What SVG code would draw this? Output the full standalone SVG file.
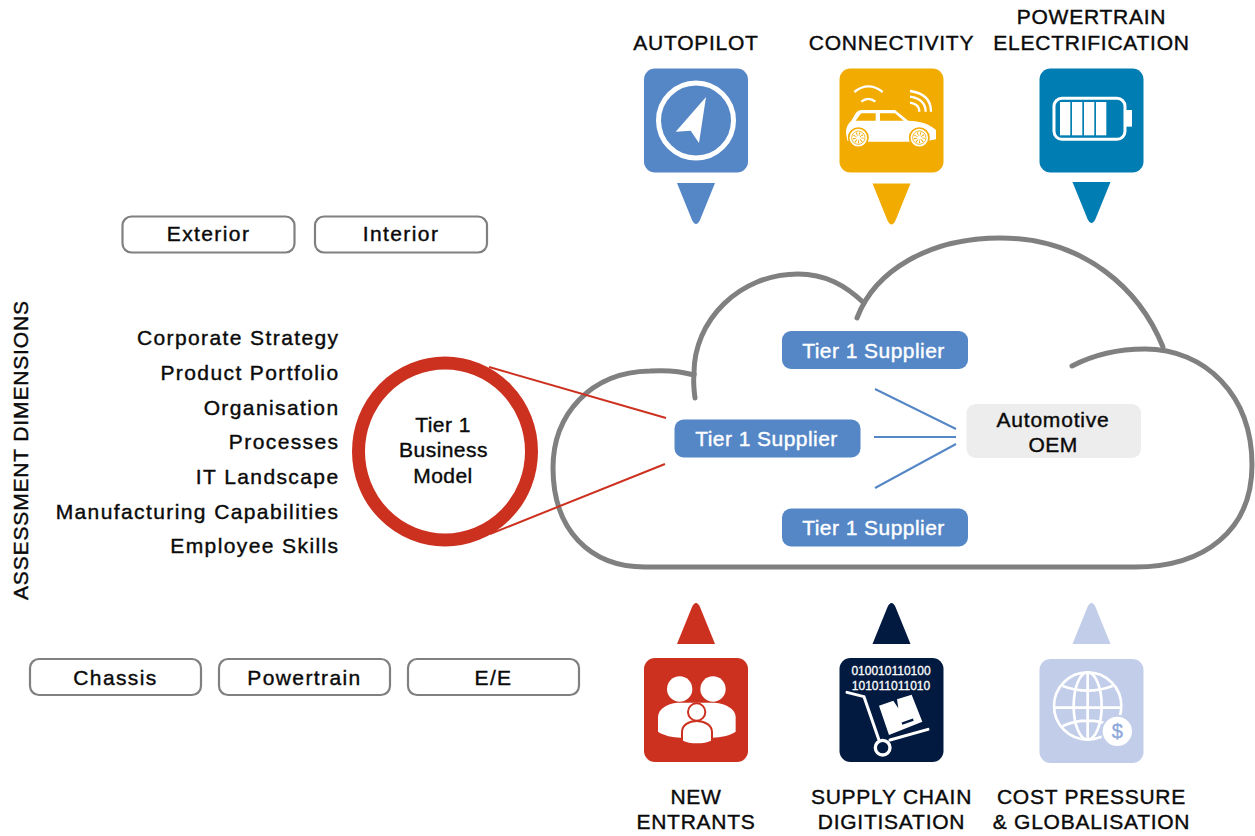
<svg xmlns="http://www.w3.org/2000/svg" width="1255" height="836" viewBox="0 0 1255 836">
<style>
text{font-family:"Liberation Sans",Arial,sans-serif;font-size:21px;fill:#0a0a0a;stroke:#0a0a0a;stroke-width:.4px;letter-spacing:.45px}
.m{text-anchor:middle}.e{text-anchor:end}
.l{letter-spacing:1.4px}
.u{letter-spacing:.75px}
.w{fill:#fff;stroke:#fff}
.bin{font-size:12px;letter-spacing:0;stroke-width:.3px}
.pill{fill:#fff;stroke:#808080;stroke-width:2.2}
.sup{fill:#5587c7}
.cloud{fill:none;stroke:#808080;stroke-width:5;stroke-linecap:round}
.red{stroke:#cc3120;stroke-width:2;fill:none}
.blue{stroke:#5587c7;stroke-width:2;fill:none}
.wl{fill:none;stroke:#fff;stroke-linecap:butt}
</style>
<defs>
<path id="down" d="M-19 0H19L4 37Q0 45-4 37Z"/>
<path id="up" d="M-19 0H19L4-37Q0-45-4-37Z"/>
</defs>
<rect width="1255" height="836" fill="#fff"/>

<g id="cloud">
<path class="cloud" d="M695 398C694 390 693 382 694 375C680 371 665 370 650 371C590 372 553 415 553 468C553 530 590 567 645 567L1135 567C1205 567 1252 530 1252 465C1252 395 1205 349 1145 349C1118 349 1095 354 1072 366"/>
<path class="cloud" d="M857 318C875 270 930 238 1000 238C1085 238 1140 290 1163 347"/>
<path class="cloud" d="M864 303C845 285 825 274 798 274C740 274 693 320 694 375"/>
</g>

<g id="connectors">
<path class="red" d="M489 367L666 418"/>
<path class="red" d="M490 534L665 464"/>
<path class="blue" d="M875 389L956 429"/>
<path class="blue" d="M874 437H956"/>
<path class="blue" d="M875 488L956 444"/>
</g>

<g id="node-autopilot">
<text class="m u" x="696" y="50">AUTOPILOT</text>
<rect x="644" y="68.500" width="104" height="104" rx="11" fill="#5587c7"/>
<circle cx="696" cy="120.500" r="37.500" fill="none" stroke="#fff" stroke-width="5"/>
<path d="M706 97L675.700 131.700L690.700 130.700L699 143Z" fill="#fff"/>
<use href="#down" x="696" y="183" fill="#5587c7"/>
</g>

<g id="node-connectivity">
<text class="m u" x="891.500" y="50">CONNECTIVITY</text>
<rect x="839.500" y="68.500" width="104" height="104" rx="11" fill="#f2ab00"/>
<g transform="translate(840 70) scale(.3333)">
<path class="wl" stroke-width="7" d="M43 66Q85 32 128 66M64 95Q85 78 106 95M210 63Q273 72 273 125M210 80Q257 88 257 125M210 98Q238 102 238 125"/>
<path fill="#fff" d="M18 190C18 170 25 160 34 152L48 128Q54 120 64 120H165L205 152C240 153 270 162 288 180V208L250 215H60L22 212Z"/>
<path fill="#f2ab00" d="M47 152L60 134Q63 130 68 130H107V152ZM120 130H165L191 152H120Z"/>
<g stroke="#f2ab00" fill="#fff">
<circle cx="55" cy="203" r="29" stroke-width="5"/>
<circle cx="238" cy="203" r="29" stroke-width="5"/>
<circle cx="55" cy="203" r="20" stroke-width="2.500"/>
<circle cx="238" cy="203" r="20" stroke-width="2.500"/>
</g>
<g fill="none" stroke="#f2ab00" stroke-width="11" stroke-dasharray="2.500 5">
<circle cx="55" cy="203" r="11"/>
<circle cx="238" cy="203" r="11"/>
</g>
</g>
<use href="#down" x="891.500" y="183.500" fill="#f2ab00"/>
</g>

<g id="node-powertrain">
<text class="m u" x="1091.500" y="24">POWERTRAIN</text>
<text class="m u" x="1091.500" y="50">ELECTRIFICATION</text>
<rect x="1039.500" y="68.500" width="104" height="104" rx="11" fill="#007db3"/>
<g transform="translate(950 0) scale(.3333)" fill="#fff">
<rect x="312" y="295" width="213" height="123" rx="24" fill="none" stroke="#fff" stroke-width="9"/>
<rect x="330" y="306" width="31" height="100"/>
<rect x="366" y="306" width="31" height="100"/>
<rect x="402" y="306" width="31" height="100"/>
<rect x="438" y="306" width="31" height="100"/>
<rect x="525" y="330" width="21" height="50"/>
</g>
<use href="#down" x="1091.500" y="182" fill="#007db3"/>
</g>

<g id="node-new-entrants">
<use href="#up" x="696" y="644" fill="#cc3120"/>
<rect x="644" y="658" width="104" height="104" rx="11" fill="#cc3120"/>
<g transform="translate(644 660) scale(.3333)">
<circle cx="107" cy="87" r="38" fill="#fff"/>
<circle cx="207" cy="87" r="38" fill="#fff"/>
<path fill="#fff" d="M42 215V172C42 145 75 128 107 128H205C240 128 275 145 275 172V215C255 228 230 232 205 233H110C85 232 60 227 42 215Z"/>
<circle cx="158" cy="156" r="26" fill="#fff" stroke="#cc3120" stroke-width="6"/>
<path fill="#fff" stroke="#cc3120" stroke-width="6" d="M114 244V216C114 195 135 183 158 183C181 183 204 195 204 216V244C180 256 138 256 114 244Z"/>
</g>
<text class="m u" x="696" y="804">NEW</text>
<text class="m u" x="696" y="829">ENTRANTS</text>
</g>

<g id="node-supply-chain">
<use href="#up" x="891.500" y="644" fill="#021a40"/>
<rect x="839.500" y="658" width="104" height="104" rx="11" fill="#021a40"/>
<text class="m w bin" x="891" y="675">010010110100</text>
<text class="m w bin" x="891" y="690">101011011010</text>
<g transform="translate(840 660) scale(.3333)">
<path fill="none" stroke="#fff" stroke-width="9" stroke-linecap="round" d="M21 97L72 110L118 243M150 240L264 208"/>
<circle cx="128" cy="263" r="22" fill="none" stroke="#fff" stroke-width="10"/>
<path fill="#fff" d="M117 137L160 122L175 145L171 118L215 104L247 185L147 225Z"/>
<path d="M186 191L220 179" stroke="#021a40" stroke-width="7"/>
</g>
<text class="m u" x="891.500" y="804">SUPPLY CHAIN</text>
<text class="m u" x="891.500" y="829">DIGITISATION</text>
</g>

<g id="node-cost-pressure">
<use href="#up" x="1091.500" y="644" fill="#c1cde9"/>
<rect x="1039.500" y="659" width="104" height="104" rx="11" fill="#c1cde9"/>
<g transform="translate(1040 660) scale(.3333)" fill="none" stroke="#fff" stroke-width="8">
<circle cx="143" cy="138" r="101"/>
<ellipse cx="143" cy="138" rx="42" ry="101"/>
<path d="M143 37V239M42 143H244M68 78Q143 106 218 78M68 198Q143 166 218 198"/>
<circle cx="232" cy="214" r="50" fill="#c1cde9" stroke="none"/>
<circle cx="232" cy="214" r="44" fill="#fff" stroke="none"/>
</g>
<text class="m" x="1117.300" y="738" style="font-size:20px;fill:#8fa8dc;stroke:#8fa8dc;letter-spacing:0">$</text>
<text class="m u" x="1091.500" y="804">COST PRESSURE</text>
<text class="m u" x="1091.500" y="829">&amp; GLOBALISATION</text>
</g>

<g id="node-exterior"><rect class="pill" x="122.500" y="216.500" width="172" height="36" rx="9"/><text class="m l" x="208.500" y="241">Exterior</text></g>
<g id="node-interior"><rect class="pill" x="315" y="216.500" width="172" height="36" rx="9"/><text class="m l" x="401" y="241">Interior</text></g>
<g id="node-chassis"><rect class="pill" x="30" y="659" width="171" height="36" rx="9"/><text class="m l" x="115.500" y="685">Chassis</text></g>
<g id="node-powertrain-dim"><rect class="pill" x="219" y="659" width="171" height="36" rx="9"/><text class="m l" x="304.500" y="685">Powertrain</text></g>
<g id="node-ee"><rect class="pill" x="408" y="659" width="171" height="36" rx="9"/><text class="m l" x="493.500" y="685">E/E</text></g>

<g id="node-assessment">
<text transform="translate(28 600) rotate(-90)" style="letter-spacing:.85px">ASSESSMENT DIMENSIONS</text>
<text class="e l" x="339.500" y="345">Corporate Strategy</text>
<text class="e l" x="339.500" y="380">Product Portfolio</text>
<text class="e l" x="339.500" y="415">Organisation</text>
<text class="e l" x="339.500" y="449">Processes</text>
<text class="e l" x="339.500" y="484">IT Landscape</text>
<text class="e l" x="339.500" y="519">Manufacturing Capabilities</text>
<text class="e l" x="339.500" y="553">Employee Skills</text>
</g>

<g id="node-business-model">
<ellipse cx="445" cy="451.500" rx="86.500" ry="88.500" fill="#fff" stroke="#cc3120" stroke-width="13"/>
<text class="m" x="443" y="432">Tier 1</text>
<text class="m" x="443.500" y="457">Business</text>
<text class="m" x="443" y="483">Model</text>
</g>

<g id="node-supplier-top"><rect class="sup" x="782" y="331" width="186" height="38" rx="9"/><text class="m w" x="873.500" y="358">Tier 1 Supplier</text></g>
<g id="node-supplier-mid"><rect class="sup" x="674.500" y="419.500" width="186" height="38" rx="9"/><text class="m w" x="766.500" y="446">Tier 1 Supplier</text></g>
<g id="node-supplier-bottom"><rect class="sup" x="782" y="508.500" width="186" height="38" rx="9"/><text class="m w" x="873.500" y="535">Tier 1 Supplier</text></g>
<g id="node-oem"><rect x="966.500" y="404" width="174.500" height="54" rx="9" fill="#ededed"/><text class="m" x="1053" y="427" style="letter-spacing:.8px">Automotive</text><text class="m" x="1053" y="452">OEM</text></g>
</svg>
